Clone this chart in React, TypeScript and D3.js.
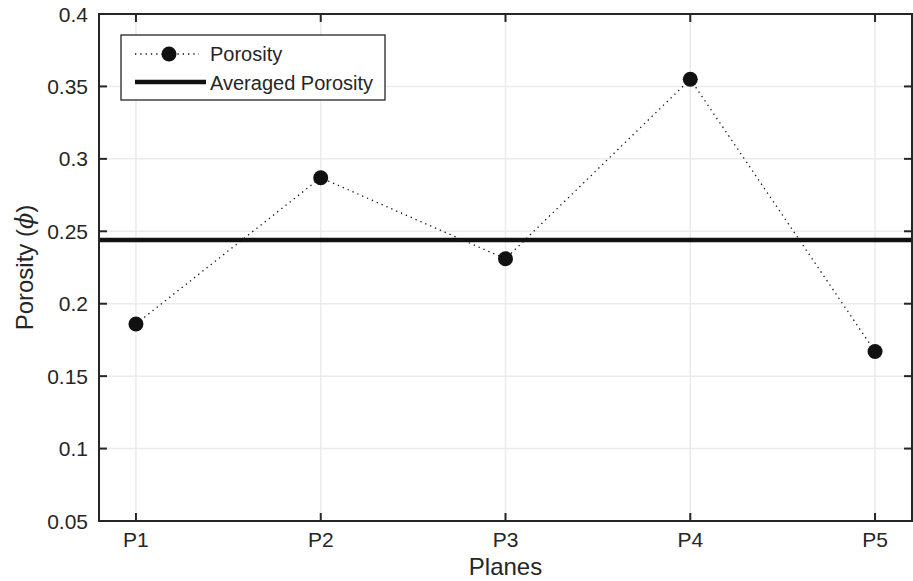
import React from 'react';
import * as d3 from 'd3';

// Chart data
const planes = ['P1', 'P2', 'P3', 'P4', 'P5'];
const porosity = [0.186, 0.287, 0.231, 0.355, 0.167];
const averagedPorosity = 0.244;
const yTicks = [0.05, 0.1, 0.15, 0.2, 0.25, 0.3, 0.35, 0.4];
const yTickLabels = ['0.05', '0.1', '0.15', '0.2', '0.25', '0.3', '0.35', '0.4'];

const W = 913;
const H = 581;
const margin = { top: 14, right: 1, bottom: 60, left: 99 };
const axisColor = '#262626';
const gridColor = '#ebebeb';
const font = 'Liberation Sans, Arial, Helvetica, sans-serif';

export default function App() {
  const x = d3.scaleLinear().domain([0.8, 5.2]).range([margin.left, W - margin.right]);
  const y = d3.scaleLinear().domain([0.05, 0.4]).range([H - margin.bottom, margin.top]);
  const x0 = x.range()[0], x1 = x.range()[1];
  const y0 = y.range()[0], y1 = y.range()[1];
  const tickLen = 8;

  const pts = porosity.map((v, i) => [x(i + 1), y(v)] as [number, number]);
  const line = d3.line()(pts) || '';

  // legend layout
  const lg = { x: 121, y: 35, w: 264, h: 65 };

  return (
    <div style={{ position: 'fixed', left: 0, top: 0, width: W, height: H, overflow: 'hidden' }}>
      <svg width={W} height={H} style={{ display: 'block', background: '#fff' }} fontFamily={font}>
        {/* grid */}
        {planes.map((p, i) => (
          <line key={'gx' + p} x1={x(i + 1)} x2={x(i + 1)} y1={y0} y2={y1} stroke={gridColor} strokeWidth={1.5} />
        ))}
        {yTicks.map(t => (
          <line key={'gy' + t} x1={x0} x2={x1} y1={y(t)} y2={y(t)} stroke={gridColor} strokeWidth={1.5} />
        ))}

        {/* average line */}
        <line x1={x0} x2={x1} y1={y(averagedPorosity)} y2={y(averagedPorosity)} stroke="#111" strokeWidth={4.5} />

        {/* porosity series */}
        <path d={line} fill="none" stroke="#111" strokeWidth={1.3} strokeDasharray="1.3,4" />
        {pts.map((p, i) => (
          <circle key={'pt' + i} cx={p[0]} cy={p[1]} r={7.5} fill="#111" />
        ))}

        {/* box */}
        <rect x={x0} y={y1} width={x1 - x0} height={y0 - y1} fill="none" stroke={axisColor} strokeWidth={2} />

        {/* x ticks */}
        {planes.map((p, i) => (
          <g key={'xt' + p}>
            <line x1={x(i + 1)} x2={x(i + 1)} y1={y0} y2={y0 - tickLen} stroke={axisColor} strokeWidth={2} />
            <line x1={x(i + 1)} x2={x(i + 1)} y1={y1} y2={y1 + tickLen} stroke={axisColor} strokeWidth={2} />
            <text x={x(i + 1)} y={y0 + 26} textAnchor="middle" fontSize={21} fill={axisColor}>{p}</text>
          </g>
        ))}

        {/* y ticks */}
        {yTicks.map((t, i) => (
          <g key={'yt' + t}>
            <line x1={x0} x2={x0 + tickLen} y1={y(t)} y2={y(t)} stroke={axisColor} strokeWidth={2} />
            <line x1={x1} x2={x1 - tickLen} y1={y(t)} y2={y(t)} stroke={axisColor} strokeWidth={2} />
            <text x={x0 - 11} y={y(t)} dy="0.36em" textAnchor="end" fontSize={21} fill={axisColor}>{yTickLabels[i]}</text>
          </g>
        ))}

        {/* axis labels */}
        <text x={(x0 + x1) / 2} y={575} textAnchor="middle" fontSize={24} fill={axisColor}>Planes</text>
        <text transform={`translate(33, ${(y0 + y1) / 2}) rotate(-90)`} textAnchor="middle" fontSize={24} fill={axisColor}>
          Porosity (<tspan fontStyle="italic" fontFamily="DejaVu Serif, serif">ϕ</tspan>)
        </text>

        {/* legend */}
        <rect x={lg.x} y={lg.y} width={lg.w} height={lg.h} fill="#fff" stroke={axisColor} strokeWidth={1.3} />
        <line x1={lg.x + 14} x2={lg.x + 78} y1={lg.y + 19} y2={lg.y + 19} stroke="#111" strokeWidth={1.3} strokeDasharray="1.3,4" />
        <circle cx={lg.x + 48} cy={lg.y + 19} r={7.5} fill="#111" />
        <text x={lg.x + 89} y={lg.y + 19} dy="0.36em" fontSize={20} fill={axisColor}>Porosity</text>
        <line x1={lg.x + 14} x2={lg.x + 85} y1={lg.y + 47} y2={lg.y + 47} stroke="#111" strokeWidth={4.5} />
        <text x={lg.x + 89} y={lg.y + 48} dy="0.36em" fontSize={20} fill={axisColor}>Averaged Porosity</text>
      </svg>
    </div>
  );
}
